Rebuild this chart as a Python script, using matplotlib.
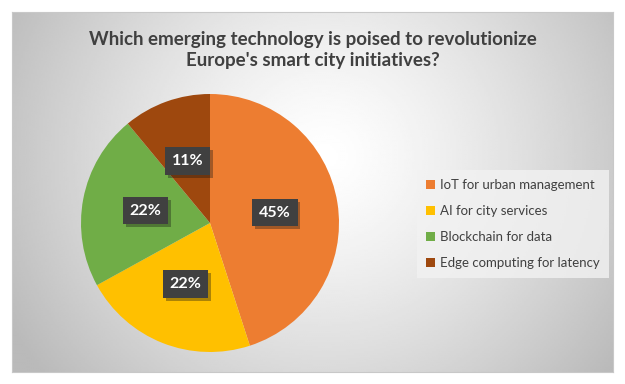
import numpy as np
import matplotlib.pyplot as plt
import matplotlib.patheffects as pe

title = "Which emerging technology is poised to revolutionize\nEurope's smart city initiatives?"
labels = ["IoT for urban management", "AI for city services",
          "Blockchain for data", "Edge computing for latency"]
shares = [45, 22, 22, 11]
colors = ["#ED7D31", "#FFC000", "#70AD47", "#9E480E"]

plt.rcParams['font.family'] = ['Lato', 'DejaVu Sans']

W, H = 625, 384
fig = plt.figure(figsize=(W / 100, H / 100), dpi=100)
fig.patch.set_facecolor("white")

# gradient background inside the chart frame
x0, y0, x1, y1 = 12, 12, 613, 372
bg = fig.add_axes([x0 / W, 1 - y1 / H, (x1 - x0) / W, (y1 - y0) / H])
gx, gy = np.meshgrid(np.linspace(0, 1, 300), np.linspace(0, 1, 200))
d = np.sqrt(((gx - 0.52) * 1.0) ** 2 + ((gy - 0.4) * 0.62) ** 2)
val = 1.0 - 0.27 * np.clip(d / 0.6, 0, 1) ** 1.3
bg.imshow(val, cmap="gray", vmin=0, vmax=1, aspect="auto",
          extent=[0, 1, 0, 1], interpolation="bilinear")
bg.set_xticks([])
bg.set_yticks([])
for s in bg.spines.values():
    s.set_color("#c8c8c8")
    s.set_linewidth(0.8)

fig.text(313 / W, 1 - 50 / H, title, ha="center", va="center",
         fontsize=13.5, fontweight="bold", color="#404040", linespacing=1.3)

# pie
cx, cy, r = 210, 223, 129
ax = fig.add_axes([(cx - r) / W, 1 - (cy + r) / H, 2 * r / W, 2 * r / H])
wedges, _ = ax.pie(shares, colors=colors, startangle=90, counterclock=False,
                   wedgeprops=dict(linewidth=0))
ax.set_xlim(-1, 1)
ax.set_ylim(-1, 1)
ax.set_aspect("equal")
ax.patch.set_alpha(0)

total = sum(shares)
for w, v in zip(wedges, shares):
    ang = np.deg2rad((w.theta1 + w.theta2) / 2)
    px, py = 0.51 * np.cos(ang), 0.51 * np.sin(ang)
    t = ax.text(px, py, f"{v / total * 100:.0f}%", ha="center", va="center",
                fontsize=11.5, fontweight="bold", color="white",
                bbox=dict(boxstyle="square,pad=0.42", fc="#404040", ec="none"))
    t.get_bbox_patch().set_path_effects(
        [pe.SimplePatchShadow(offset=(2, -2), alpha=0.35), pe.Normal()])

leg = fig.legend(wedges, labels, loc="center left",
                 bbox_to_anchor=(410 / W, 1 - 224 / H), frameon=True,
                 fontsize=9.5, handlelength=0.7, handleheight=0.7,
                 handletextpad=0.4, labelspacing=1.05, borderpad=0.7,
                 fancybox=False, labelcolor="#404040")
leg.get_frame().set_facecolor("#f2f2f2")
leg.get_frame().set_edgecolor("none")
leg.get_frame().set_alpha(0.8)

fig.savefig("out.png", dpi=100)
